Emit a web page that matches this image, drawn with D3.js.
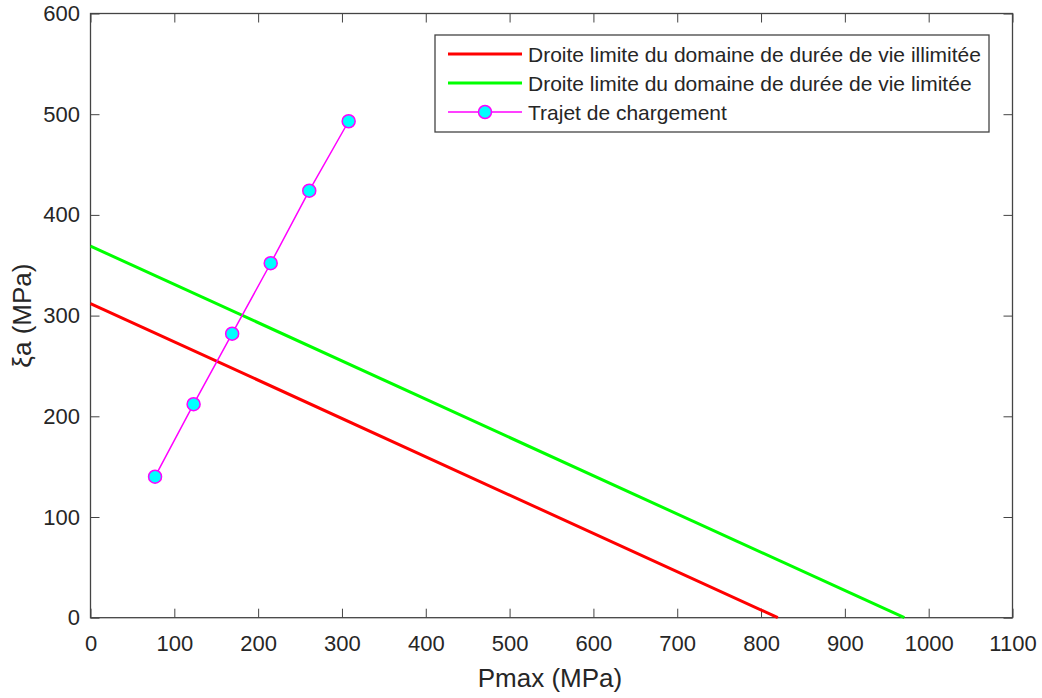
<!DOCTYPE html>
<html>
<head>
<meta charset="utf-8">
<script src="https://cdn.jsdelivr.net/npm/d3@7"></script>
<style>
  body { margin: 0; background: #fff; }
  text { font-family: "Liberation Sans", Arial, sans-serif; fill: #262626; }
</style>
</head>
<body>
<div id="chart-area"></div>
<script>
// limit lines (Pmax, xi_a) and loading path
const limitIllimitee = [[0, 312], [820, 0]];
const limitLimitee = [[0, 369], [971, 0]];
const pathX = [77, 123, 169, 215, 261, 308];
const pathY = [140, 212, 282, 352, 424, 493];
const ticksX = [0, 100, 200, 300, 400, 500, 600, 700, 800, 900, 1000, 1100];
const ticksY = [0, 100, 200, 300, 400, 500, 600];
const legendLabels = [
  'Droite limite du domaine de durée de vie illimitée',
  'Droite limite du domaine de durée de vie limitée',
  'Trajet de chargement'
];

const widthSvg = 1042;
const heightSvg = 698;
const margin = { top: 13.5, right: 29.5, bottom: 80, left: 90.5 };
const widthChart = widthSvg - margin.left - margin.right;
const heightChart = 617.7 - margin.top;

const svg = d3.select('#chart-area').append('svg')
  .attr('width', widthSvg)
  .attr('height', heightSvg);

const chart = svg.append('g')
  .attr('transform', `translate(${margin.left}, ${margin.top})`);

const x = d3.scaleLinear().domain([0, 1100]).range([0, widthChart]);
const y = d3.scaleLinear().domain([0, 600]).range([heightChart, 0]);

const axisColor = '#444';
const tickLen = 9;
const fmt = d3.format('d');

// axes with inward ticks, mirrored on top and right
const styleAxis = g => {
  g.select('.domain').remove();
  g.selectAll('.tick line').attr('stroke', axisColor);
  g.selectAll('.tick text').attr('font-size', '22px').attr('fill', '#262626')
    .style('font-family', '"Liberation Sans", Arial, sans-serif');
};

chart.append('g')
  .attr('transform', `translate(0, ${heightChart})`)
  .call(d3.axisBottom(x).tickValues(ticksX).tickFormat(fmt).tickSize(-tickLen).tickPadding(18))
  .call(styleAxis);

chart.append('g')
  .call(d3.axisTop(x).tickValues(ticksX).tickSize(-tickLen).tickFormat(''))
  .call(styleAxis);

chart.append('g')
  .call(d3.axisLeft(y).tickValues(ticksY).tickFormat(fmt).tickSize(-tickLen).tickPadding(10.5))
  .call(styleAxis);

chart.append('g')
  .attr('transform', `translate(${widthChart}, 0)`)
  .call(d3.axisRight(y).tickValues(ticksY).tickSize(-tickLen).tickFormat(''))
  .call(styleAxis);

chart.append('rect')
  .attr('width', widthChart)
  .attr('height', heightChart)
  .attr('fill', 'none')
  .attr('stroke', axisColor)
  .attr('stroke-width', 1.3);

const line = d3.line().x(d => x(d[0])).y(d => y(d[1]));

chart.append('path')
  .datum(limitIllimitee)
  .attr('d', line)
  .attr('fill', 'none')
  .attr('stroke', '#ff0000')
  .attr('stroke-width', 3);

chart.append('path')
  .datum(limitLimitee)
  .attr('d', line)
  .attr('fill', 'none')
  .attr('stroke', '#00ff00')
  .attr('stroke-width', 3);

const pathData = pathX.map((v, i) => [v, pathY[i]]);

chart.append('path')
  .datum(pathData)
  .attr('d', line)
  .attr('fill', 'none')
  .attr('stroke', '#ff00ff')
  .attr('stroke-width', 1.5);

chart.selectAll('circle.pt')
  .data(pathData)
  .enter()
  .append('circle')
    .attr('class', 'pt')
    .attr('cx', d => x(d[0]))
    .attr('cy', d => y(d[1]))
    .attr('r', 6.5)
    .attr('fill', '#00ffff')
    .attr('stroke', '#ff00ff')
    .attr('stroke-width', 1.5);

// axis labels
svg.append('text')
  .text('Pmax (MPa)')
  .attr('x', 550)
  .attr('y', 687)
  .attr('text-anchor', 'middle')
  .attr('font-size', '26px');

svg.append('text')
  .text('ξa (MPa)')
  .attr('transform', `translate(31, ${margin.top + heightChart / 2})rotate(-90)`)
  .attr('text-anchor', 'middle')
  .attr('font-size', '26px');

// legend
const legend = svg.append('g').attr('transform', 'translate(435, 35)');

legend.append('rect')
  .attr('width', 554)
  .attr('height', 97)
  .attr('fill', '#fff')
  .attr('stroke', axisColor)
  .attr('stroke-width', 1.3);

const legendColors = ['#ff0000', '#00ff00', '#ff00ff'];

legendLabels.forEach((label, i) => {
  const row = legend.append('g').attr('transform', `translate(0, ${19 + i * 29})`);
  row.append('line')
    .attr('x1', 13).attr('x2', 87)
    .attr('stroke', legendColors[i])
    .attr('stroke-width', i < 2 ? 3 : 1.5);
  if (i === 2) {
    row.append('circle')
      .attr('cx', 50).attr('r', 6.5)
      .attr('fill', '#00ffff')
      .attr('stroke', '#ff00ff')
      .attr('stroke-width', 1.5);
  }
  row.append('text')
    .text(label)
    .attr('x', 93)
    .attr('dy', '0.36em')
    .attr('font-size', '21px')
    .attr('fill', '#000');
});
</script>
</body>
</html>
